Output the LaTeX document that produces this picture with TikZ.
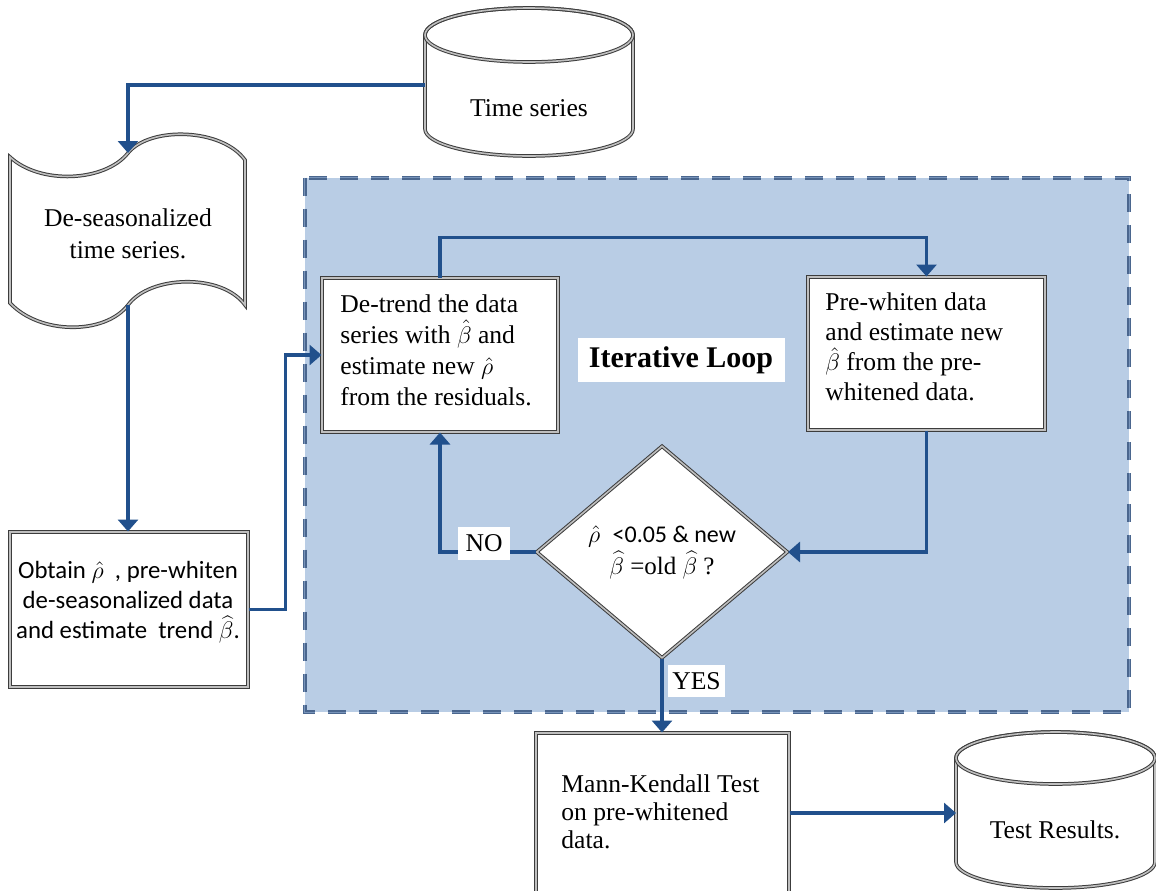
\documentclass[tikz,border=0pt]{standalone}
\usepackage{fontspec}
\setmainfont{Liberation Serif}
\newfontfamily\calfont{Carlito}
\usetikzlibrary{shapes.geometric,arrows.meta}
\definecolor{shadebg}{RGB}{185,205,229}
\definecolor{dashc}{RGB}{74,102,142}
\definecolor{dashin}{RGB}{120,148,186}
\definecolor{connblue}{RGB}{33,80,140}
\definecolor{bord}{RGB}{60,60,60}
\begin{document}
\begin{tikzpicture}[x=0.5pt,y=0.5pt,
  dbl/.style={draw=bord, line width=0.5pt, double=black!25, double distance=0.8pt},
  box/.style={dbl, fill=white, rectangle, inner sep=0pt},
  txt/.style={font=\fontsize{12.8}{15.2}\selectfont, align=left, inner sep=0pt},
  conn/.style={draw=connblue, line width=1.6pt, -{Triangle[length=6pt,width=10pt]}},
  lab/.style={fill=white, inner sep=0pt, font=\fontsize{12.8}{15}\selectfont}
]
\useasboundingbox (0,0) rectangle (1156,-890);
\fill[white] (0,0) rectangle (1156,-890);

% loop background
\node (loopbg) [fill=shadebg, minimum width=412pt, minimum height=267pt, inner sep=0pt] at (717,-445) {};
\draw[draw=dashc, line width=0.75pt, double=dashin, double distance=0.5pt, dash pattern=on 9pt off 6.5pt]
  (loopbg.north west) rectangle (loopbg.south east);

% Time series cylinder
\path[dbl, fill=white] (425,-35) -- (425,-129)
  arc[start angle=180, end angle=360, x radius=52pt, y radius=13.5pt] -- (633,-35)
  arc[start angle=0, end angle=180, x radius=52pt, y radius=13.5pt] -- cycle;
\draw[dbl] (529,-35) ellipse [x radius=52pt, y radius=13.5pt];
\node (ts) [txt] at (529,-108) {Time series};
\coordinate (tsleft) at (425,-85);

% De-seasonalized document
\path[dbl, fill=white] (10,-157) .. controls (40,-185) and (105,-182) .. (128,-153)
  .. controls (150,-126) and (222,-128) .. (245,-160) -- (245,-305)
  .. controls (222,-273) and (150,-275) .. (128,-305)
  .. controls (105,-335) and (40,-335) .. (10,-303) -- cycle;
\node (doc) [font=\fontsize{12.8}{16}\selectfont, align=center, inner sep=0pt] at (128,-234) {De-seasonalized\\time series.};
\coordinate (doctop) at (128,-153);
\coordinate (docbot) at (128,-305);

% Obtain box
\node (obtain) [box, minimum width=119pt, minimum height=77.5pt] at (129,-609.5) {};
\node (obtaintxt) [font=\calfont\fontsize{12.4}{14.9}\selectfont, align=center, inner sep=0pt] at (128,-602)
  {Obtain\ $\hat\rho$\ \ ,\ pre-whiten\\de-seasonalized data\\and estimate\ \ trend $\widehat\beta$.};

% De-trend box
\node (detrend) [box, minimum width=118pt, minimum height=77pt] at (440,-355) {};
\node (detrendtxt) [txt, anchor=west, font=\fontsize{12.8}{15.5}\selectfont] at (340,-350)
  {De-trend the data\\series with $\hat\beta$ and\\estimate new $\hat\rho$\\from the residuals.};

% Pre-whiten box
\node (prew) [box, minimum width=118.5pt, minimum height=76.5pt] at (926.5,-353.5) {};
\node (prewtxt) [txt, anchor=west, font=\fontsize{12.8}{15}\selectfont] at (825,-347)
  {Pre-whiten data\\and estimate new\\$\hat\beta$ from the pre-\\whitened data.};

% Iterative loop label
\node (iter) [fill=white, inner sep=0pt, minimum width=103.5pt, minimum height=22pt,
  font=\bfseries\fontsize{15}{18}\selectfont] at (681,-360) {Iterative Loop};

% Decision diamond
\node (dec) [diamond, dbl, fill=white, minimum width=125.5pt, minimum height=106pt,
  inner sep=1pt, align=center, font=\fontsize{12.5}{16}\selectfont] at (662,-552)
  {$\hat\rho$\ \ {\calfont\fontsize{12}{16}\selectfont <0.05 \& new}\\$\widehat\beta$ =old $\widehat\beta$ ?};

% Mann-Kendall box
\node (mk) [box, minimum width=126.5pt, minimum height=80pt] at (662.5,-813) {};
\node (mktxt) [txt, anchor=west, font=\fontsize{12.8}{14}\selectfont] at (561,-812)
  {Mann-Kendall Test\\on pre-whitened\\data.};

% Test Results cylinder
\path[dbl, fill=white] (956,-758) -- (956,-862)
  arc[start angle=180, end angle=360, x radius=49.75pt, y radius=13pt] -- (1155,-758)
  arc[start angle=0, end angle=180, x radius=49.75pt, y radius=13pt] -- cycle;
\draw[dbl] (1055.5,-758) ellipse [x radius=49.75pt, y radius=13pt];
\node (tr) [txt] at (1055,-830) {Test Results.};
\coordinate (trleft) at (956,-813);

% connectors
\draw[conn] (tsleft) -| (doctop);
\draw[conn] (docbot) -- (docbot |- obtain.north);
\draw[conn] (obtain.east) -- ++(18.5pt,0) |- (detrend.west);
\draw[conn] (detrend.north) -- ++(0,20pt) -| (prew.north);
\draw[conn] (prew.south) |- (dec.east);
\draw[conn] (dec.west) -| (detrend.south);
\draw[conn] (dec.south) -- (dec.south |- mk.north);
\draw[conn] (mk.east) -- (trleft);

% labels
\node (nolab) [lab, minimum width=26pt, minimum height=16.5pt] at (484,-543.5) {NO};
\node (yeslab) [lab, minimum width=28.5pt, minimum height=16pt] at (696.5,-681) {YES};
\end{tikzpicture}
\end{document}
